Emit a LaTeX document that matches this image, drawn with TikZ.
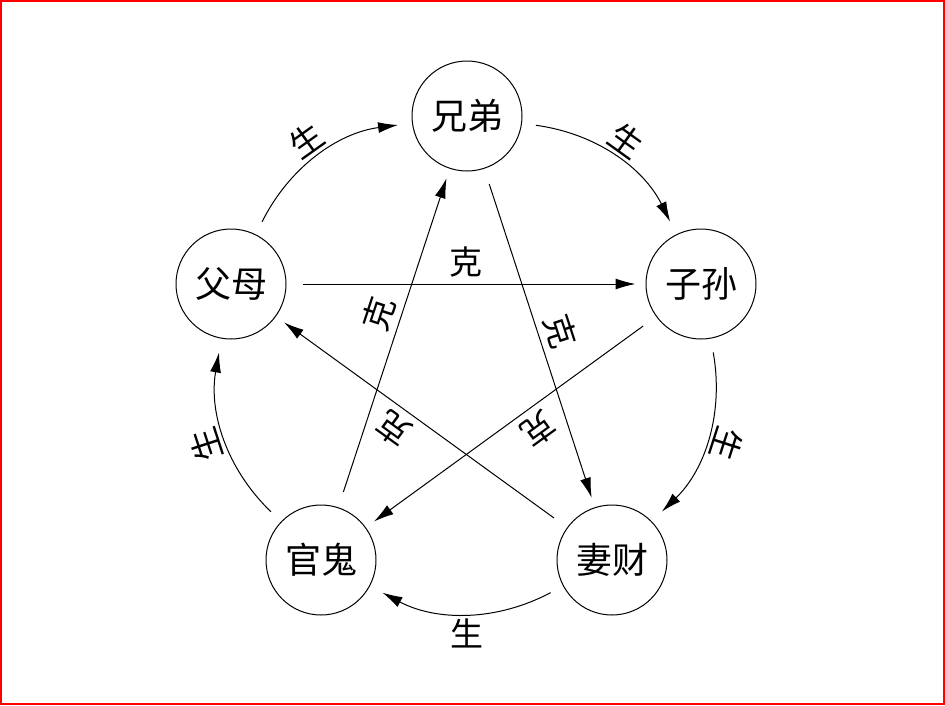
\documentclass[tikz,border=0pt]{standalone}
\usepackage{fontspec}
\newfontfamily\cjk{Noto Sans CJK SC}
\usetikzlibrary{arrows.meta}

\tikzset{
  member/.style={circle, draw, line width=1pt, minimum size=110pt, inner sep=0pt,
    font=\cjk\fontsize{36}{40}\selectfont},
  rel/.style={font=\cjk\fontsize{33}{36}\selectfont, inner sep=6pt},
}

\begin{document}
\begin{tikzpicture}[x=1pt, y=-1pt, line width=1pt,
    >={Latex[length=20pt,width=11pt]}, shorten >=14pt, shorten <=14pt]
  \useasboundingbox (0,0) rectangle (945,705);
  \draw[red, line width=2pt] (1,1) rectangle (944,704);
  \node[member] (xd) at (467,116) {兄弟};
  \node[member] (zs) at (701,284) {子孙};
  \node[member] (qc) at (612,560) {妻财};
  \node[member] (gg) at (321,560) {官鬼};
  \node[member] (fm) at (231,284) {父母};
  % sheng: round the ring
  \path[->]
    (fm) edge [bend left=28] node[rel, above, sloped, allow upside down] {生} (xd)
    (xd) edge [bend left=28] node[rel, above, sloped, allow upside down] {生} (zs)
    (zs) edge [bend left=28] node[rel, above, sloped, allow upside down] {生} (qc)
    (qc) edge [bend left=28] node[rel, below] {生} (gg)
    (gg) edge [bend left=28] node[rel, above, sloped, allow upside down] {生} (fm);
  % ke: the star
  \path[->, shorten >=10pt, shorten <=16pt]
    (fm) edge node[rel, above] {克} (zs)
    (xd) edge node[rel, above, sloped, allow upside down] {克} (qc)
    (zs) edge node[rel, above, sloped, allow upside down, pos=0.45] {克} (gg)
    (gg) edge node[rel, above, sloped, allow upside down, pos=0.55] {克} (xd)
    (qc) edge node[rel, above, sloped, allow upside down, pos=0.55] {克} (fm);
\end{tikzpicture}
\end{document}
